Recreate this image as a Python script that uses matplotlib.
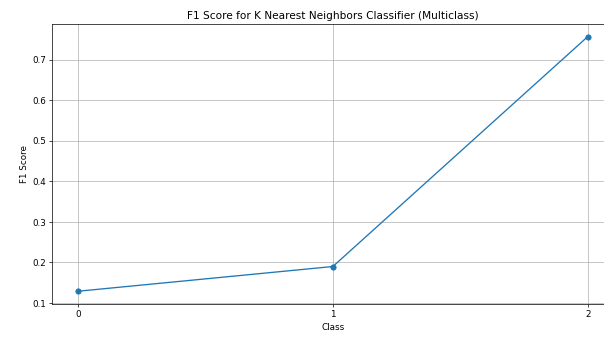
import numpy as np
import matplotlib
matplotlib.use('Agg')
import matplotlib.pyplot as plt

# F1 score per class
classes = [0, 1, 2]
f1_scores = [0.129, 0.190, 0.757]

fig = plt.figure(figsize=(9.6, 5.4), dpi=63)
ax = fig.add_axes([52.5 / 605, 1 - 304 / 340, 561 / 605, 280 / 340])
ax.plot(classes, f1_scores, marker='o')
ax.set_title('F1 Score for K Nearest Neighbors Classifier (Multiclass)')
ax.set_xlabel('Class')
ax.set_ylabel('F1 Score')
ax.set_xticks(classes)
ax.grid(True)
fig.savefig('out.png', dpi=63)
